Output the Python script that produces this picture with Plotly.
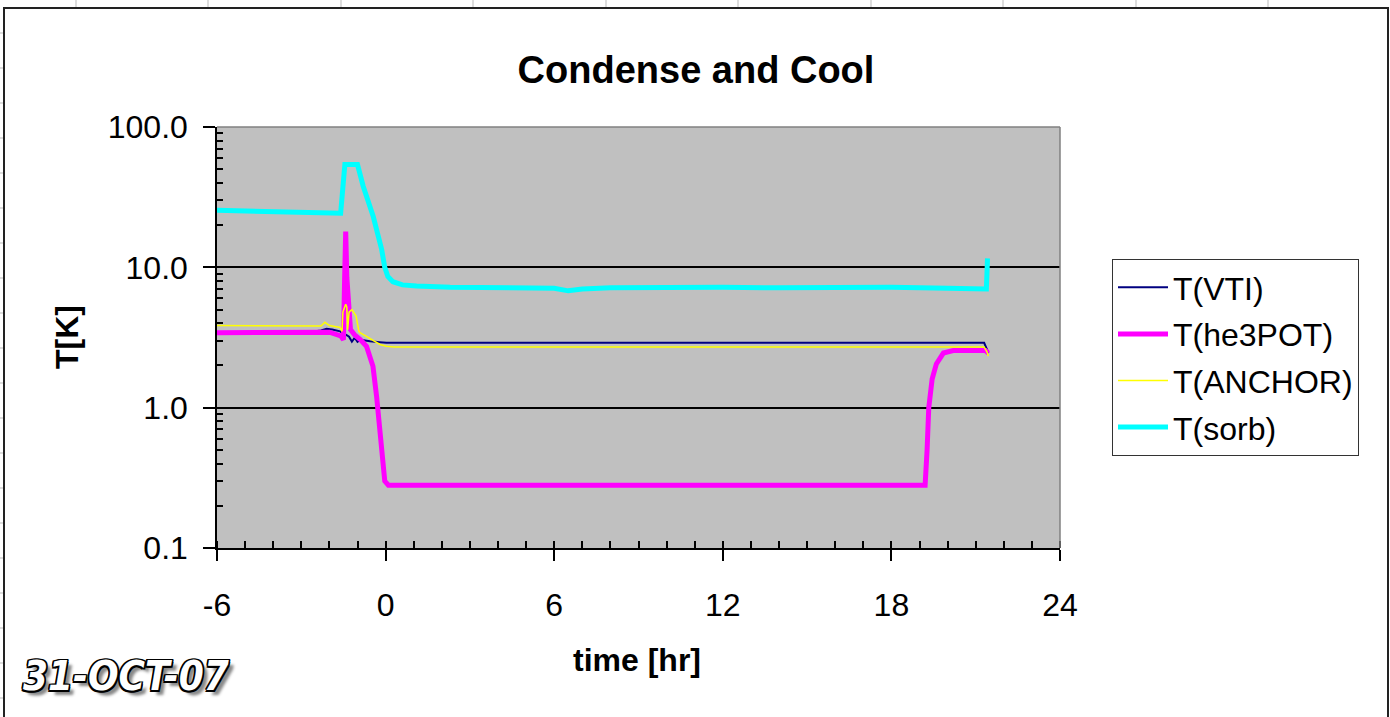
import plotly.graph_objects as go

# ---------------- data ----------------
vti_t = [-6, -4, -2.5, -2.3, -2.1, -1.9, -1.62, -1.5, -1.4, -1.3, -1.2, -1.1, -1.0, -0.9, -0.56, -0.2, 0.03,
         1, 3, 5, 8, 10, 12, 15, 18, 20, 21.3, 21.4, 21.45]
vti_v = [3.45, 3.47, 3.5, 3.55, 3.65, 3.6, 3.5, 3.35, 3.3, 3.2, 2.95, 3.15, 2.95, 3.05, 2.97, 2.93, 2.9,
         2.9, 2.9, 2.9, 2.9, 2.9, 2.9, 2.9, 2.9, 2.9, 2.9, 2.6, 2.45]

he3_t = [-6, -4, -2.5, -2.0, -1.6, -1.5, -1.46, -1.42, -1.38, -1.33, -1.25, -1.1, -0.9, -0.68, -0.45,
         -0.32, -0.27, -0.14, -0.03, 0.1, 3, 6, 10, 14, 19.2, 19.27, 19.33, 19.45, 19.6, 19.85, 20.2,
         21.0, 21.35, 21.45]
he3_v = [3.42, 3.45, 3.5, 3.45, 3.25, 3.05, 8.0, 18.0, 8.5, 5.3, 3.6, 3.3, 3.06, 2.74, 1.97,
         1.2, 0.92, 0.53, 0.3, 0.28, 0.28, 0.28, 0.28, 0.28, 0.28, 0.5, 1.0, 1.6, 2.05, 2.45, 2.55,
         2.55, 2.55, 2.45]

anchor_t = [-6, -4, -2.3, -2.16, -2.0, -1.62, -1.55, -1.52, -1.42, -1.38, -1.35, -1.3, -1.2, -1.05,
            -0.95, -0.91, -0.56, -0.2, 0.03, 0.3, 3, 6, 10, 15, 20, 21.3, 21.4, 21.45]
anchor_v = [3.85, 3.83, 3.82, 4.06, 3.85, 3.73, 3.5, 4.8, 5.45, 5.2, 3.6, 4.8, 5.0, 4.5,
            3.5, 3.43, 3.1, 2.82, 2.74, 2.71, 2.71, 2.71, 2.71, 2.71, 2.71, 2.71, 2.5, 2.33]

sorb_t = [-6, -4, -2.5, -1.6, -1.45, -1.0, -0.8, -0.44, -0.14, -0.03, 0.08, 0.26, 0.6, 1.1, 2.3,
          4.0, 6.0, 6.5, 7.0, 8.0, 10, 12, 14, 16, 18, 20, 21.38, 21.42]
sorb_v = [25.5, 25.0, 24.5, 24.3, 54, 54, 38, 23, 13.4, 10, 8.6, 7.9, 7.5, 7.35, 7.2,
          7.2, 7.1, 6.8, 7.0, 7.15, 7.2, 7.2, 7.15, 7.2, 7.2, 7.1, 7.0, 11.6]

x_ticks = [-6, 0, 6, 12, 18, 24]
x_tick_text = ["-6", "0", "6", "12", "18", "24"]
y_ticks = [0.1, 1, 10, 100]
y_tick_text = ["0.1", "1.0", "10.0", "100.0"]
y_minor = [m * 10 ** e for e in (-1, 0, 1) for m in range(2, 10)]

FONT = "Liberation Sans, Arial, sans-serif"

# ---------------- geometry ----------------
W, H = 1390, 717
L, R, T, B = 217, 1060, 127, 548
pw, ph = R - L, B - T


def px(x):
    return (x - L) / pw


def py(y):
    return (B - y) / ph


fig = go.Figure()
series = [
    ("T(VTI)", vti_t, vti_v, "#000080", 2),
    ("T(he3POT)", he3_t, he3_v, "#FF00FF", 5),
    ("T(ANCHOR)", anchor_t, anchor_v, "#FFFF00", 1.5),
    ("T(sorb)", sorb_t, sorb_v, "#00FFFF", 5),
]
for name, t, v, c, w in series:
    fig.add_trace(go.Scatter(x=t, y=v, name=name, mode="lines", legendgroup=name,
                             line=dict(color=c, width=w)))

# helper trace for crossing major x ticks
fig.add_trace(go.Scatter(x=[None], y=[None], xaxis="x2", showlegend=False, hoverinfo="skip"))

shapes = []
# outer chart frame
shapes.append(dict(type="rect", xref="paper", yref="paper", x0=px(4), x1=px(1388), y0=py(730), y1=py(8),
                   line=dict(color="#222222", width=2), fillcolor="rgba(0,0,0,0)", layer="below"))
# plot area top & right edge (gray)
shapes.append(dict(type="line", xref="paper", yref="paper", x0=0, x1=1, y0=1, y1=1,
                   line=dict(color="#808080", width=1.5)))
shapes.append(dict(type="line", xref="paper", yref="paper", x0=1, x1=1, y0=0, y1=1,
                   line=dict(color="#808080", width=1.5)))
# faint spreadsheet ticks at top and left edge
for gx in [76, 208, 341, 473, 606, 738, 871, 1003, 1136, 1268]:
    shapes.append(dict(type="line", xref="paper", yref="paper", x0=px(gx), x1=px(gx), y0=py(0), y1=py(7),
                       line=dict(color="#BBBBBB", width=1)))
for gy in range(33, 717, 35):
    shapes.append(dict(type="line", xref="paper", yref="paper", x0=px(0), x1=px(3), y0=py(gy), y1=py(gy),
                       line=dict(color="#BBBBBB", width=1)))

annotations = [
    dict(text="<b>time [hr]</b>", xref="paper", yref="paper", x=px(637), y=py(660),
         xanchor="center", yanchor="middle", showarrow=False, font=dict(family=FONT, size=32, color="black")),
    dict(text="<b>T[K]</b>", xref="paper", yref="paper", x=px(67), y=py(337), textangle=-90,
         xanchor="center", yanchor="middle", showarrow=False, font=dict(family=FONT, size=32, color="black")),
    dict(text="31-OCT-07", xref="paper", yref="paper", x=px(126), y=py(676),
         xanchor="center", yanchor="middle", showarrow=False,
         font=dict(family="Liberation Sans Narrow, DejaVu Sans Condensed, Arial Narrow, sans-serif",
                   size=40, color="white", weight="bold", style="italic",
                   shadow="-1.5px -1.5px 0 #000, 1.5px -1.5px 0 #000, -1.5px 1.5px 0 #000, 1.5px 1.5px 0 #000, "
                          "0 1.5px 0 #000, 0 -1.5px 0 #000, 1.5px 0 0 #000, -1.5px 0 0 #000, 5px 5px 3px #888")),
]

fig.update_layout(
    width=W, height=H,
    margin=dict(l=L, r=W - R, t=T, b=H - B, autoexpand=False),
    paper_bgcolor="white", plot_bgcolor="#C0C0C0",
    font=dict(family=FONT, size=32, color="black"),
    title=dict(text="<b>Condense and Cool</b>", xref="container", yref="container",
               x=696 / W, y=1 - 70 / H, xanchor="center", yanchor="middle",
               font=dict(family=FONT, size=38, color="black")),
    showlegend=True,
    legend=dict(x=px(1112), y=py(259), xanchor="left", yanchor="top",
                bgcolor="white", bordercolor="#333333", borderwidth=1,
                font=dict(family=FONT, size=32, color="black"),
                tracegroupgap=2, itemwidth=50, traceorder="grouped"),
    xaxis=dict(range=[-6, 24], tickmode="array", tickvals=x_ticks, ticktext=x_tick_text,
               ticks="outside", ticklen=11,
               tickwidth=1.5, tickcolor="black", showline=True, linecolor="black", linewidth=1.5,
               showgrid=False, zeroline=False, ticklabelstandoff=17,
               tickfont=dict(family=FONT, size=32),
               minor=dict(dtick=1, ticks="inside", ticklen=7, tickwidth=1.5, tickcolor="black", showgrid=False)),
    xaxis2=dict(range=[-6, 24], overlaying="x", anchor="y", side="bottom", tickmode="array",
                tickvals=x_ticks, ticks="inside", ticklen=7, tickwidth=1.5, tickcolor="black",
                showticklabels=False, showline=False, showgrid=False, zeroline=False),
    yaxis=dict(type="log", range=[-1, 2], tickmode="array", tickvals=y_ticks, ticktext=y_tick_text,
               ticks="outside", ticklen=12, tickwidth=1.5, tickcolor="black",
               showline=True, linecolor="black", linewidth=1.5,
               showgrid=True, gridcolor="black", gridwidth=1.5, zeroline=False, ticklabelstandoff=9,
               tickfont=dict(family=FONT, size=32),
               minor=dict(tickmode="array", tickvals=y_minor, ticks="inside", ticklen=6, tickwidth=1.5,
                          tickcolor="black", showgrid=False)),
    shapes=shapes,
    annotations=annotations,
)

fig.write_html("out.html", config={"displayModeBar": False},
               post_script="document.body.style.margin='0';")
